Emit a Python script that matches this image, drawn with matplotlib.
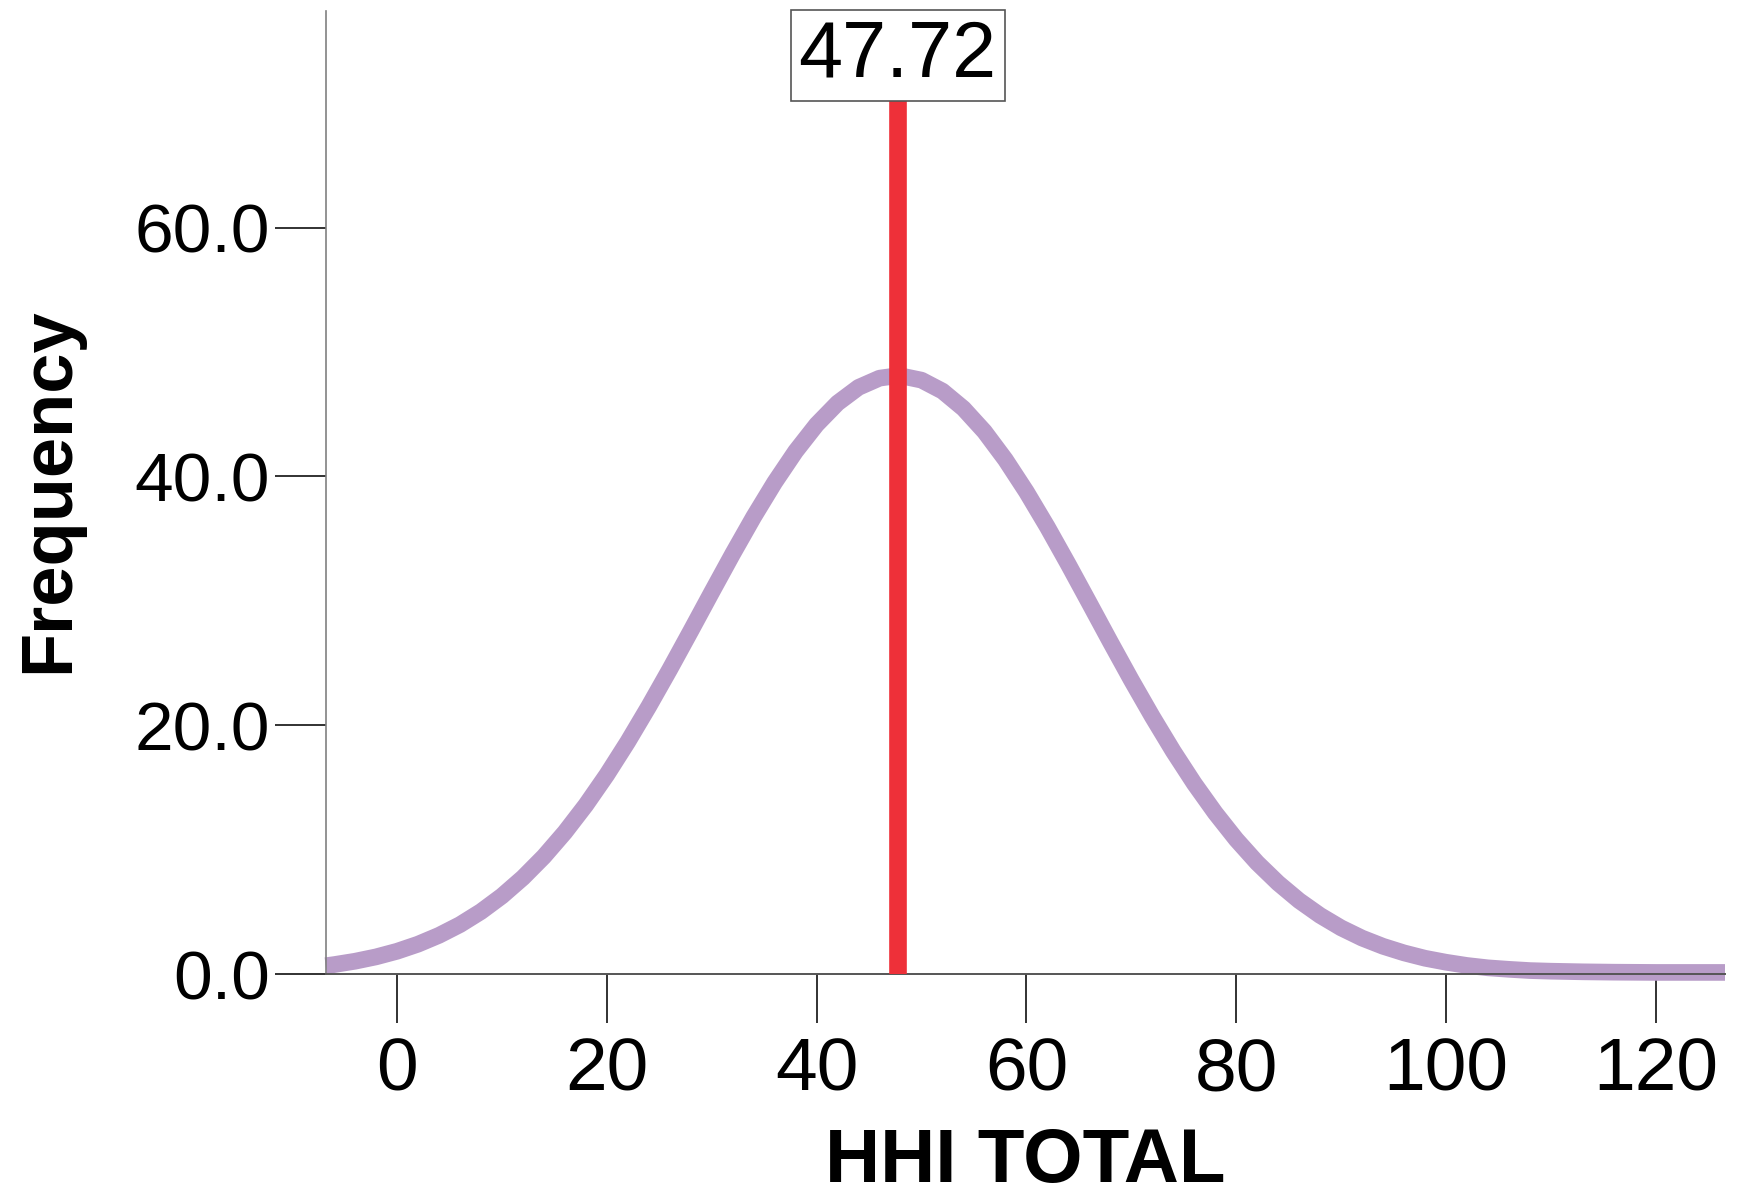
import matplotlib
matplotlib.use("Agg")
import matplotlib.pyplot as plt
from matplotlib.ticker import FormatStrFormatter

plt.rcParams['font.family'] = ['Liberation Sans', 'DejaVu Sans']

# Normal curve (HHI TOTAL vs Frequency)
hhi_x = [-6.8, -6, -4, -2, 0, 2, 4, 6, 8, 10, 12, 14, 16, 18, 20, 22, 24, 26, 28, 30,
         32, 34, 36, 38, 40, 42, 44, 46, 47.72, 48, 50, 52, 54, 56, 58, 60, 62, 64, 66,
         68, 70, 72, 74, 76, 78, 80, 82, 84, 86, 88, 90, 92, 94, 96, 98, 100, 102, 104,
         106, 108, 110, 113, 116, 120, 126.6]
freq_y = [0.69, 0.78, 1.05, 1.40, 1.85, 2.42, 3.13, 3.99, 5.04, 6.29, 7.76, 9.46, 11.41,
          13.60, 16.03, 18.68, 21.52, 24.50, 27.58, 30.70, 33.78, 36.75, 39.52, 42.02,
          44.17, 45.90, 47.16, 47.90, 48.10, 48.09, 47.74, 46.86, 45.46, 43.61, 41.35,
          38.77, 35.94, 32.93, 29.83, 26.71, 23.65, 20.71, 17.92, 15.33, 12.97, 10.84,
          8.96, 7.33, 5.92, 4.73, 3.73, 2.91, 2.25, 1.72, 1.29, 0.97, 0.71, 0.52, 0.40,
          0.30, 0.25, 0.20, 0.17, 0.15, 0.15]
mean_value = 47.72
mean_label = "47.72"
x_ticks = [0, 20, 40, 60, 80, 100, 120]
y_ticks = [0, 20, 40, 60]

W, H = 1737, 1195
fig = plt.figure(figsize=(W / 100, H / 100), dpi=100)
ax = fig.add_axes([325.7 / W, 1 - 974.3 / H, (1725 - 325.7) / W, (974.3 - 11) / H])

ax.plot(hhi_x, freq_y, color='#B89CC8', lw=12, solid_capstyle='butt',
        solid_joinstyle='round', clip_on=False, zorder=2)
ax.axvline(mean_value, color='#EE3039', lw=12.7, zorder=3)
ax.text(mean_value, 73.8, mean_label, ha='center', va='center', fontsize=57,
        color='black', zorder=5,
        bbox=dict(boxstyle='square,pad=0.1', fc='white', ec='#555555', lw=1.2))

ax.set_xlim(-6.8, 126.6)
ax.set_ylim(0, 77.4)
ax.set_xticks(x_ticks)
ax.set_yticks(y_ticks)
ax.yaxis.set_major_formatter(FormatStrFormatter('%.1f'))

for s in ['top', 'right']:
    ax.spines[s].set_visible(False)
ax.spines['left'].set_color('#808080')
ax.spines['left'].set_linewidth(1.2)
ax.spines['bottom'].set_color('#555555')
ax.spines['bottom'].set_linewidth(1.4)

ax.tick_params(axis='x', direction='out', length=35, width=1.3, color='#222222',
               labelsize=54, pad=10)
ax.tick_params(axis='y', direction='out', length=37, width=1.3, color='#222222',
               labelsize=50, pad=3)

ax.set_xlabel('HHI TOTAL', fontsize=55, fontweight='bold')
ax.xaxis.set_label_coords(0.5, -0.158)
ax.set_ylabel('Frequency', fontsize=52, fontweight='bold')
ax.yaxis.set_label_coords(-0.1734, 0.503)

fig.savefig('out.png', dpi=100, facecolor='white')
